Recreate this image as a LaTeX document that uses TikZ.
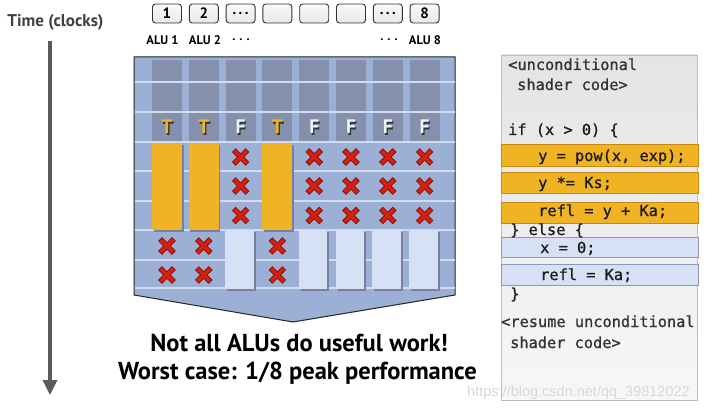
\documentclass[tikz,border=0pt]{standalone}
\usepackage{fontspec}
\setmainfont{PT Sans}
\setmonofont{DejaVu Sans Mono}
\newfontfamily\codefont{DejaVu Sans Mono}[FakeBold=0.9]
\newfontfamily\wmfont{Liberation Sans}
\usetikzlibrary{arrows.meta}
\definecolor{panelblue}{HTML}{9CAFD5}
\definecolor{darkcol}{HTML}{8590AD}
\definecolor{rowline}{HTML}{D3DCEF}
\definecolor{goldbar}{HTML}{F0B323}
\definecolor{goldedge}{HTML}{C48A12}
\definecolor{palebar}{HTML}{D7E1F6}
\definecolor{paleedge}{HTML}{8C9AB8}
\definecolor{barshadow}{HTML}{75819F}
\definecolor{xred}{HTML}{D42010}
\definecolor{xdark}{HTML}{8A1008}
\definecolor{arrowgray}{HTML}{5A5A5A}
\definecolor{codetop}{HTML}{E4E4E4}
\definecolor{codebot}{HTML}{F7F7F7}
\definecolor{codeedge}{HTML}{BDBDBD}
\definecolor{codetext}{HTML}{1C1C1C}
\definecolor{commenttext}{HTML}{333333}
\definecolor{ftext}{HTML}{EEF3FB}
\definecolor{timegray}{HTML}{404040}
\definecolor{wmgray}{HTML}{D8D8D8}
\tikzset{
  panel/.style={fill=panelblue, draw=black!85, line width=1pt},
  darkcolumn/.style={fill=darkcol},
  rowrule/.style={draw=rowline, line width=1.2pt},
  numbox/.style={draw=black!80, line width=0.9pt, rounded corners=3pt,
    top color=gray!4, bottom color=gray!18, minimum width=29pt, minimum height=19pt,
    inner sep=0pt, font=\fontsize{15}{15}\selectfont\bfseries},
  alulabel/.style={font=\fontsize{12.5}{12.5}\selectfont\bfseries, inner sep=0pt},
  tletter/.style={font=\fontsize{19.5}{19.5}\selectfont\bfseries, text=goldbar, inner sep=0pt},
  fletter/.style={font=\fontsize{19.5}{19.5}\selectfont\bfseries, text=ftext, inner sep=0pt},
  lettershadow/.style={font=\fontsize{19.5}{19.5}\selectfont\bfseries, text=black!80, inner sep=0pt},
  codeline/.style={font=\fontsize{15.3}{15.3}\selectfont\codefont, text=codetext, anchor=base west, inner sep=0pt},
  commentline/.style={codeline, text=commenttext},
  goldrow/.style={fill=goldbar, draw=goldedge, line width=0.6pt, minimum width=197pt, inner sep=0pt, anchor=north west},
  bluerow/.style={fill=palebar, draw=paleedge, line width=0.6pt, minimum width=197pt, inner sep=0pt, anchor=north west},
  bigtext/.style={font=\fontsize{24.5}{24.5}\selectfont\bfseries, inner sep=0pt},
  redcross/.pic={
    \draw[xdark, line width=5.4pt] (-6.9,-6.9) -- (6.9,6.9) (-6.9,6.9) -- (6.9,-6.9);
    \draw[xred, line width=3.6pt] (-6.2,-6.2) -- (6.2,6.2) (-6.2,6.2) -- (6.2,-6.2);
  }
}
\begin{document}
\begin{tikzpicture}[x=1pt,y=-1pt]
\useasboundingbox (0,0) rectangle (710,412);
\fill[white] (0,0) rectangle (710,412);

% time axis
\node[font=\fontsize{17}{17}\selectfont\bfseries, text=timegray, inner sep=0pt] (time) at (55.5,22) {Time (clocks)};
\coordinate (tstart) at (50,41);
\coordinate (tend) at (50,395);
\draw[arrowgray, line width=3.3pt, -{Triangle[width=14pt,length=15pt]}] (tstart) -- (tend);

% ALU number boxes
\node[numbox] (b1) at (167,13.5) {1};
\node[numbox] (b2) at (203.8,13.5) {2};
\node[numbox] (b3) at (240.6,13.5) {.\hspace{2.5pt}.\hspace{2.5pt}.};
\node[numbox] (b4) at (277.4,13.5) {};
\node[numbox] (b5) at (314.2,13.5) {};
\node[numbox] (b6) at (351,13.5) {};
\node[numbox] (b7) at (387.8,13.5) {.\hspace{2.5pt}.\hspace{2.5pt}.};
\node[numbox] (b8) at (424.6,13.5) {8};

\node[alulabel] (l1) at (162.5,40) {ALU 1};
\node[alulabel] (l2) at (205,40) {ALU 2};
\node[alulabel] (l3) at (241,40) {.\hspace{4pt}.\hspace{4pt}.};
\node[alulabel] (l7) at (389,40) {.\hspace{4pt}.\hspace{4pt}.};
\node[alulabel] (l8) at (425,40) {ALU 8};

% main panel
\draw[panel] (134,57) -- (455,57) -- (455,295) -- (293,322) -- (134,295) -- cycle;
\foreach \cx in {167,203.8,240.6,277.4,314.2,351,387.8,424.6}
  \fill[darkcolumn] (\cx-15,60) rectangle (\cx+15,142);
\foreach \yy in {82,112,142,171,201,230,260,288}
  \draw[rowrule] (134.5,\yy) -- (454.5,\yy);

% yellow bars (if branch)
\foreach \cx in {167,203.8,277.4} {
  \fill[barshadow] (\cx-13.5,144.5) rectangle (\cx+16.5,231.5);
  \fill[goldbar] (\cx-15,143) rectangle (\cx+15,230);
}
% pale bars (else branch)
\foreach \cx in {240.6,314.2,351,387.8,424.6} {
  \fill[barshadow] (\cx-13.5,232) rectangle (\cx+15,290.5);
  \fill[palebar] (\cx-15.5,231) rectangle (\cx+13,289);
}

% red crosses
\foreach \cx in {240.6,314.2,351,387.8,424.6}
  \foreach \cy in {157,186,215.5}
    \pic at (\cx,\cy) {redcross};
\foreach \cx in {167,203.8,277.4}
  \foreach \cy in {246,275}
    \pic at (\cx,\cy) {redcross};

% T / F
\foreach \cx/\nm in {167/1,203.8/2,277.4/4} {
  \node[lettershadow] (ts\nm) at (\cx+1.3,128.3) {T};
  \node[tletter] (t\nm) at (\cx,127) {T};
}
\foreach \cx/\nm in {240.6/3,314.2/5,351/6,387.8/7,424.6/8} {
  \node[lettershadow] (fs\nm) at (\cx+1.3,128.3) {F};
  \node[fletter] (f\nm) at (\cx,127) {F};
}

% bottom text
\node[bigtext] (msg1) at (299,343) {Not all ALUs do useful work!};
\node[bigtext] (msg2) at (297.5,373) {Worst case: 1/8 peak performance};

% code panel
\shade[top color=codetop, bottom color=codebot, draw=codeedge, line width=0.8pt] (501,55) rectangle (697,400);
\node[goldrow, minimum height=22pt] (y1) at (501,144) {};
\node[goldrow, minimum height=21pt] (y2) at (501,172) {};
\node[goldrow, minimum height=21pt] (y3) at (501,202) {};
\node[bluerow, minimum height=20pt] (e1) at (501,237) {};
\node[bluerow, minimum height=21pt] (e2) at (501,264) {};

\node[commentline] (c1) at (508,70) {<unconditional};
\node[commentline] (c2) at (517,90) {shader code>};
\node[codeline] (c3) at (508,135) {if (x > 0) \{};
\node[codeline] (c4) at (538,161) {y = pow(x, exp);};
\node[codeline] (c5) at (538,188) {y *= Ks;};
\node[codeline] (c6) at (538,216) {refl = y + Ka;};
\node[codeline] (c7) at (510,235) {\} else \{};
\node[codeline] (c8) at (540,253) {x = 0;};
\node[codeline] (c9) at (540,280) {refl = Ka;};
\node[codeline] (c10) at (510,299) {\}};
\node[commentline] (c11) at (501,327) {<resume unconditional};
\node[commentline] (c12) at (510,348) {shader code>};

% watermark
\node[font=\wmfont\fontsize{14.5}{14.5}\selectfont, text=wmgray, inner sep=0pt] (wm) at (578.5,393) {https://blog.csdn.net/qq\_39812022};
\end{tikzpicture}
\end{document}
